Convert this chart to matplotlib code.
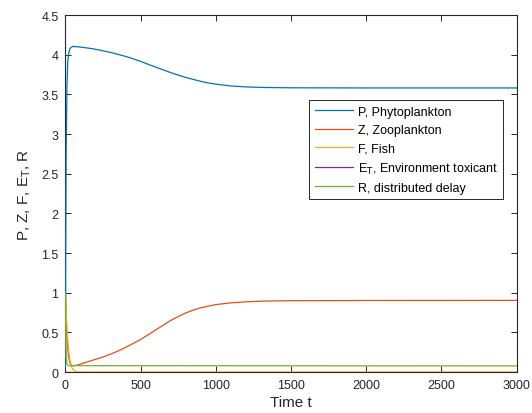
import numpy as np
import matplotlib
matplotlib.use('Agg')
import matplotlib.pyplot as plt

plt.rcParams['font.family'] = ['Liberation Sans', 'DejaVu Sans']

# values
t_p = [0, 2, 5, 10, 15, 20, 30, 50, 100, 150, 200, 250, 300, 350, 400, 450, 500,
       550, 600, 650, 700, 750, 800, 850, 900, 950, 1000, 1100, 1200, 1300, 1400,
       1500, 2000, 3000]
P = [0.05, 1.5, 2.8, 3.6, 3.9, 4.0, 4.08, 4.106, 4.097, 4.085, 4.07, 4.05, 4.03,
     4.005, 3.98, 3.95, 3.917, 3.88, 3.845, 3.81, 3.775, 3.745, 3.715, 3.69, 3.665,
     3.645, 3.63, 3.607, 3.595, 3.589, 3.586, 3.584, 3.582, 3.582]

t_z = [0, 5, 10, 15, 20, 30, 40, 50, 75, 100, 150, 200, 250, 300, 350, 400, 450,
       500, 550, 600, 650, 700, 750, 800, 850, 900, 950, 1000, 1100, 1200, 1300,
       1400, 1500, 2000, 3000]
Z = [1.0, 0.7, 0.45, 0.3, 0.2, 0.11, 0.085, 0.078, 0.085, 0.10, 0.13, 0.16, 0.19,
     0.225, 0.265, 0.31, 0.36, 0.41, 0.47, 0.53, 0.59, 0.65, 0.70, 0.745, 0.78,
     0.81, 0.83, 0.85, 0.872, 0.885, 0.893, 0.897, 0.899, 0.902, 0.903]

t_f = [0, 5, 10, 20, 30, 40, 50, 70, 100, 3000]
F = [1.0, 0.75, 0.55, 0.3, 0.15, 0.07, 0.03, 0.005, 0.0, 0.0]

t_e = [0, 3000]
E_T = [0.001, 0.001]

t_r = [0, 2, 5, 10, 20, 3000]
R = [1.0, 0.5, 0.2, 0.1, 0.08, 0.077]

colors = ['#0072BD', '#D95319', '#EDB120', '#7E2F8E', '#77AC30']
labels = ['P, Phytoplankton', 'Z, Zooplankton', 'F, Fish',
          r'E$_{\mathrm{T}}$, Environment toxicant', 'R, distributed delay']

fig = plt.figure(figsize=(5.32, 4.14), dpi=100)
ax = fig.add_axes([0.123, 0.099, 0.848, 0.862])

series = [(t_p, P), (t_z, Z), (t_f, F), (t_e, E_T), (t_r, R)]
zorders = [3, 3, 3, 2, 3]
for (tt, yy), c, lab, zo in zip(series, colors, labels, zorders):
    ax.plot(tt, yy, color=c, lw=0.9, label=lab, zorder=zo)

ax.set_xlim(0, 3000)
ax.set_ylim(0, 4.5)
ax.set_xticks(np.arange(0, 3001, 500))
ax.set_yticks(np.arange(0, 4.51, 0.5))
ax.set_yticklabels(['0', '0.5', '1', '1.5', '2', '2.5', '3', '3.5', '4', '4.5'])
ax.tick_params(direction='in', top=True, right=True, length=4, width=0.7,
               labelsize=9, colors='#262626', pad=5)
for s in ax.spines.values():
    s.set_color('#262626')
    s.set_linewidth(0.8)

ax.set_xlabel('Time t', fontsize=11, color='#262626', labelpad=3)
ax.set_ylabel(r'P, Z, F, E$_{\mathrm{T}}$, R', fontsize=11, color='#262626', labelpad=6)

leg = ax.legend(loc='upper right', bbox_to_anchor=(0.970, 0.762), borderaxespad=0,
                fontsize=9, fancybox=False, framealpha=1, edgecolor='#262626',
                handlelength=3.0, handletextpad=0.4, labelspacing=0.5,
                borderpad=0.45)
leg.get_frame().set_linewidth(0.7)

fig.savefig('out.png', dpi=100)
